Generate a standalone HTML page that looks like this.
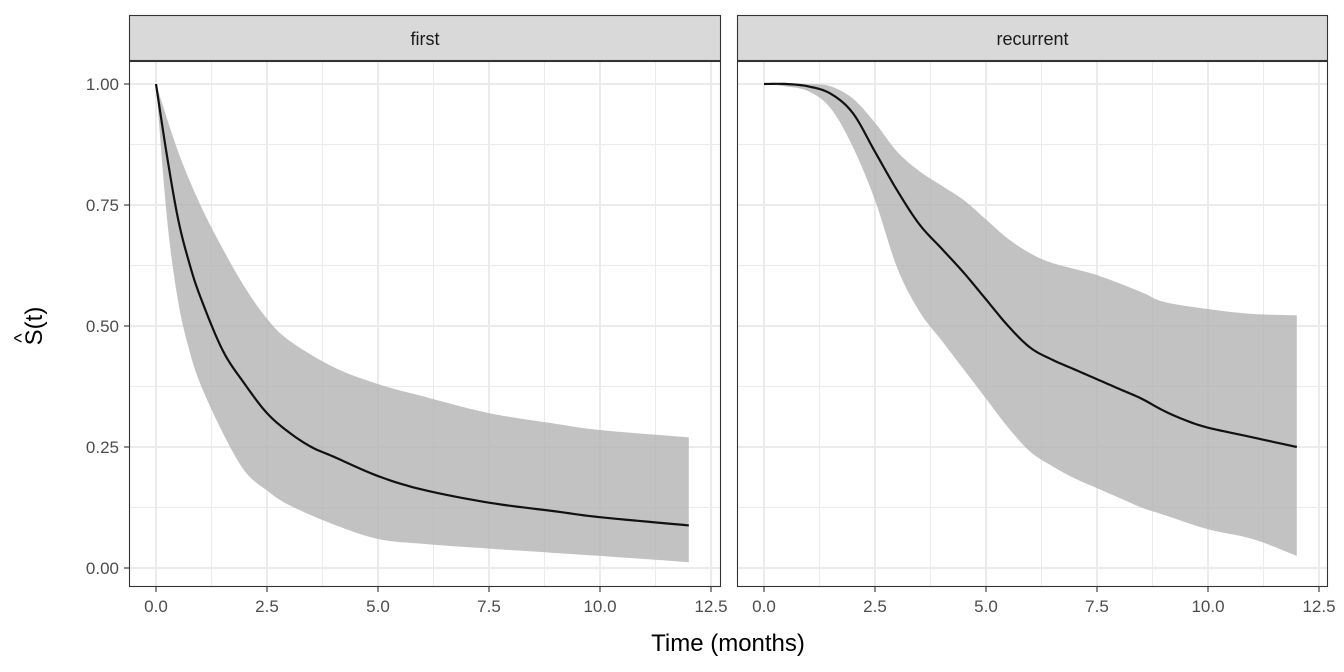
<!DOCTYPE html>
<html><head><meta charset="utf-8"><style>
html,body{margin:0;padding:0;background:#fff;}
svg{display:block;font-family:"Liberation Sans",sans-serif;}
</style></head><body>
<svg id="s" width="1344" height="672" xmlns="http://www.w3.org/2000/svg"></svg>
<script>
const s=document.getElementById('s');
let h='';
const Y=v=>568-484*v;
const panels=[
 {x0:129,x1:721,ox:156,name:'first',
  m:[[0,1],[0.25,.85],[0.5,.72],[0.75,.63],[1,.56],[1.5,.45],[2,.38],[2.5,.32],[3,.28],[3.5,.25],[4,.23],[5,.19],[6,.162],[7.5,.135],[9,.117],[10,.105],[12,.088]],
  u:[[0,1],[0.5,.86],[1,.75],[1.5,.66],[2,.58],[2.5,.515],[3,.47],[4,.415],[5,.38],[6,.355],[7.5,.32],[9,.298],[10,.285],[12,.27]],
  l:[[0,1],[0.25,.72],[0.5,.55],[0.75,.45],[1,.38],[1.5,.28],[2,.2],[2.5,.16],[3,.13],[4,.09],[5,.06],[6,.05],[7.5,.04],[10,.025],[12,.012]]},
 {x0:737,x1:1328,ox:764,name:'recurrent',
  m:[[0,1],[0.5,1],[1,.995],[1.5,.98],[2,.94],[2.5,.86],[3,.78],[3.5,.71],[4,.66],[4.5,.61],[5,.555],[5.5,.5],[6,.455],[6.5,.43],[7,.41],[7.5,.39],[8,.37],[8.5,.35],[9,.325],[9.5,.305],[10,.29],[11,.27],[12,.25]],
  u:[[0,1],[1,1],[1.5,.995],[2,.97],[2.5,.92],[3,.86],[3.5,.82],[4,.79],[4.5,.76],[5,.72],[5.5,.68],[6,.65],[6.5,.63],[7.5,.605],[8.5,.57],[9,.55],[10,.535],[11,.525],[12,.522]],
  l:[[0,1],[0.5,.995],[1,.985],[1.5,.95],[2,.87],[2.5,.76],[3,.62],[3.5,.53],[4,.47],[4.5,.41],[5,.35],[5.5,.29],[6,.24],[6.5,.21],[7,.185],[7.5,.165],[8,.145],[8.5,.125],[9,.11],[10,.08],[11,.06],[12,.025]]}
];
// Catmull-Rom densify
function dense(a){const o=[];for(let i=0;i<a.length-1;i++){const p0=a[Math.max(i-1,0)],p1=a[i],p2=a[i+1],p3=a[Math.min(i+2,a.length-1)];
 for(let j=0;j<10;j++){const t=j/10,t2=t*t,t3=t2*t;const f=k=>0.5*((2*p1[k])+(-p0[k]+p2[k])*t+(2*p0[k]-5*p1[k]+4*p2[k]-p3[k])*t2+(-p0[k]+3*p1[k]-3*p2[k]+p3[k])*t3);o.push([f(0),f(1)]);}}
 o.push(a[a.length-1]);return o;}
const k=44.4;
for(const p of panels){
 const X=t=>p.ox+k*t;
 for(let t=1.25;t<13;t+=2.5)h+=`<line x1="${X(t)}" x2="${X(t)}" y1="62" y2="587" stroke="#EBEBEB" stroke-width="1"/>`;
 for(let v=.125;v<1.1;v+=.25)h+=`<line x1="${p.x0}" x2="${p.x1}" y1="${Y(v)}" y2="${Y(v)}" stroke="#EBEBEB" stroke-width="1"/>`;
 for(let t=0;t<=12.5;t+=2.5)h+=`<line x1="${X(t)}" x2="${X(t)}" y1="62" y2="587" stroke="#EBEBEB" stroke-width="2"/>`;
 for(let v=0;v<=1;v+=.25)h+=`<line x1="${p.x0}" x2="${p.x1}" y1="${Y(v)}" y2="${Y(v)}" stroke="#EBEBEB" stroke-width="2"/>`;
 const U=dense(p.u),L=dense(p.l),M=dense(p.m);
 let pts=U.map(a=>X(a[0])+','+Y(a[1])).concat(L.slice().reverse().map(a=>X(a[0])+','+Y(a[1])));
 h+=`<polygon points="${pts.join(' ')}" fill="#B3B3B3" fill-opacity="0.8"/>`;
 h+=`<polyline points="${M.map(a=>X(a[0])+','+Y(a[1])).join(' ')}" fill="none" stroke="#111" stroke-width="2.2" stroke-linejoin="round"/>`;
 h+=`<rect x="${p.x0}.5" y="61.5" width="${p.x1-p.x0-1}" height="525" fill="none" stroke="#333" stroke-width="1.1"/>`;
 h+=`<rect x="${p.x0}.5" y="15.5" width="${p.x1-p.x0-1}" height="45" fill="#D9D9D9" stroke="#333" stroke-width="1.1"/>`;
 h+=`<text x="${(p.x0+p.x1)/2}" y="45" font-size="18" fill="#1A1A1A" text-anchor="middle">${p.name}</text>`;
 for(let t=0;t<=12.5;t+=2.5){h+=`<line x1="${X(t)}" x2="${X(t)}" y1="587" y2="592" stroke="#333" stroke-width="1.1"/>`;
  h+=`<text x="${X(t)}" y="612" font-size="17" fill="#4D4D4D" text-anchor="middle">${t.toFixed(1)}</text>`;}
}
for(let v=0;v<=1;v+=.25){h+=`<line x1="124" x2="129" y1="${Y(v)}" y2="${Y(v)}" stroke="#333" stroke-width="1.1"/>`;
 h+=`<text x="119" y="${Y(v)+6}" font-size="17" fill="#4D4D4D" text-anchor="end">${v.toFixed(2)}</text>`;}
h+=`<text x="728" y="651" font-size="24" fill="#000" text-anchor="middle">Time (months)</text>`;
h+=`<g transform="translate(42,326) rotate(-90)"><text x="0" y="0" font-size="24" text-anchor="middle">S(t)</text><text x="-12" y="-14" font-size="20" text-anchor="middle">^</text></g>`;
s.innerHTML=h;
</script>
</body></html>
